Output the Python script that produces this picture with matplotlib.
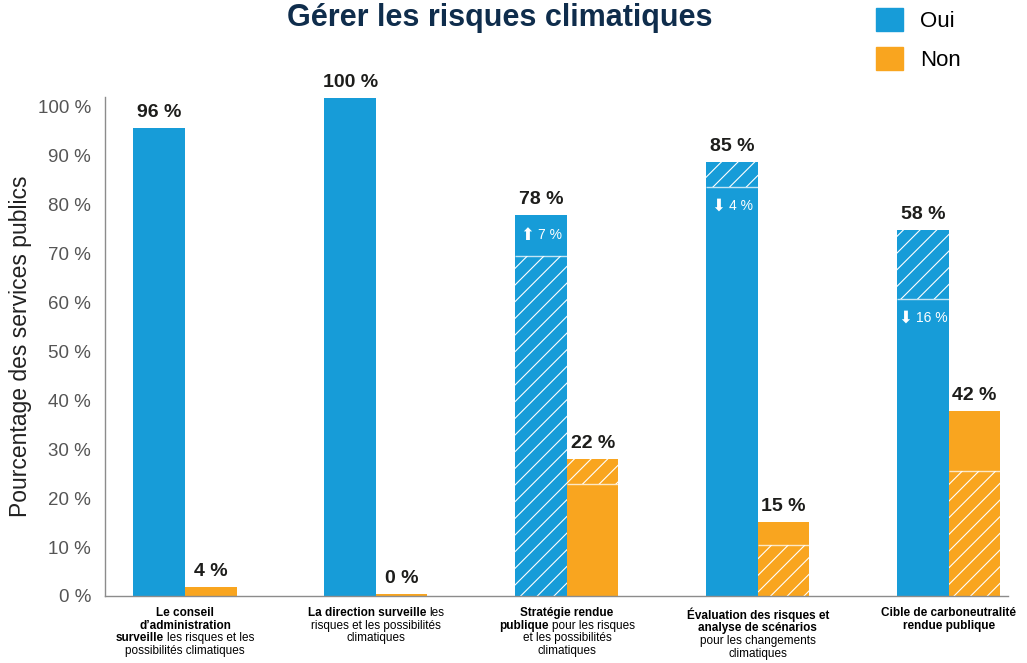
import numpy as np
import matplotlib.pyplot as plt
from matplotlib.patches import Patch
from matplotlib.offsetbox import TextArea, HPacker, VPacker, AnnotationBbox

plt.rcParams['font.family'] = ['Liberation Sans', 'DejaVu Sans']
plt.rcParams['hatch.linewidth'] = 0.8

BLUE = '#179cd8'
ORANGE = '#f9a51f'
DARK = '#1d1d1b'

# category labels: lines of (text, bold) pieces
category_lines = [
    [[("Le conseil", True)], [("d’administration", True)],
     [("surveille", True), ("les risques et les", False)], [("possibilités climatiques", False)]],
    [[("La direction surveille", True), ("les", False)], [("risques et les possibilités", False)],
     [("climatiques", False)]],
    [[("Stratégie rendue", True)], [("publique", True), ("pour les risques", False)],
     [("et les possibilités", False)], [("climatiques", False)]],
    [[("Évaluation des risques et", True)], [("analyse de scénarios", True)],
     [("pour les changements", False)], [("climatiques", False)]],
    [[("Cible de carboneutralité", True)], [("rendue publique", True)]],
]

oui_values = [96, 100, 78, 85, 58]
non_values = [4, 0, 22, 15, 42]

# drawn heights as they appear in the picture (lower segment / full bar)
oui_split = [95.7, 101.8, 69.5, 83.6, 60.7]
oui_top = [95.7, 101.8, 77.9, 88.8, 74.8]
oui_low_hatch = ['', '', '//', '', '']
oui_up_hatch = ['', '', '', '//', '//']

non_split = [1.8, 0.5, 22.9, 10.4, 25.6]
non_top = [1.8, 0.5, 28.0, 15.1, 37.8]
non_low_hatch = ['', '', '', '//', '//']
non_up_hatch = ['', '', '//', '', '']

# change vs. previous year, shown inside the Oui bars
change_arrows = ['', '', '⬆', '⬇', '⬇']
change_values = ['', '', '7 %', '4 %', '16 %']

fig = plt.figure(figsize=(10.27, 6.63), dpi=100)
ax = fig.add_axes([0.1022, 0.1011, 0.8793, 0.7526])

x = np.arange(len(oui_values))
w = 0.27


def draw_bars(xpos, split, top, low_hatch, up_hatch, color):
    split = np.array(split)
    top = np.array(top)
    ax.bar(xpos, split, w, align='edge', color=color, hatch=low_hatch,
           edgecolor='white', linewidth=0)
    ax.bar(xpos, top - split, w, bottom=split, align='edge', color=color,
           hatch=up_hatch, edgecolor='white', linewidth=0)
    has_split = top > split
    ax.hlines(split[has_split], xpos[has_split], xpos[has_split] + w,
              colors='white', alpha=0.75, linewidth=1)


draw_bars(x - w, oui_split, oui_top, oui_low_hatch, oui_up_hatch, BLUE)
draw_bars(x, non_split, non_top, non_low_hatch, non_up_hatch, ORANGE)

for i in range(len(x)):
    ax.annotate(f'{oui_values[i]} %', (x[i] - w / 2, oui_top[i]), xytext=(0, 5),
                textcoords='offset points', ha='center', va='bottom',
                fontsize=14, fontweight='bold', color=DARK)
    ax.annotate(f'{non_values[i]} %', (x[i] + w / 2, non_top[i]), xytext=(0, 5),
                textcoords='offset points', ha='center', va='bottom',
                fontsize=14, fontweight='bold', color=DARK)
    if change_values[i]:
        if change_arrows[i] == '⬆':
            yy = (oui_split[i] + oui_top[i]) / 2
        else:
            yy = oui_split[i] - 3.8
        arrow = TextArea(change_arrows[i], textprops=dict(fontsize=12, color='white',
                                                          family='DejaVu Sans'))
        val = TextArea(change_values[i], textprops=dict(fontsize=10, color='white'))
        box = HPacker(children=[arrow, val], align='center', pad=0, sep=3)
        ax.add_artist(AnnotationBbox(box, (x[i] - w / 2, yy), box_alignment=(0.5, 0.5),
                                     frameon=False, annotation_clip=False))

# category labels with mixed weights
for i, lines in enumerate(category_lines):
    rows = []
    for line in lines:
        parts = [TextArea(t, textprops=dict(fontsize=8.5, color='black',
                                            fontweight='bold' if b else 'normal'))
                 for t, b in line]
        rows.append(HPacker(children=parts, align='baseline', pad=0, sep=2))
    box = VPacker(children=rows, align='center', pad=0, sep=0.5)
    ab = AnnotationBbox(box, (x[i], 0), xycoords=('data', 'axes fraction'),
                        xybox=(0, -8), boxcoords='offset points',
                        box_alignment=(0.5, 1), frameon=False, annotation_clip=False)
    ax.add_artist(ab)

ax.set_xlim(-0.419, 4.31)
ax.set_ylim(0, 102)
ax.set_xticks([])
ax.set_yticks(range(0, 101, 10))
ax.set_yticklabels([f'{t} %' for t in range(0, 101, 10)])
ax.tick_params(axis='y', length=0, pad=10, labelsize=13.5, labelcolor='#555555')
for s in ['top', 'right']:
    ax.spines[s].set_visible(False)
for s in ['left', 'bottom']:
    ax.spines[s].set_color('#8c8c8c')
    ax.spines[s].set_linewidth(1)

ax.set_ylabel('Pourcentage des services publics', fontsize=16.5, color='#222222')
ax.yaxis.set_label_coords(-0.081, 0.5)

fig.text(500 / 1027, 1 - 18 / 663, 'Gérer les risques climatiques', ha='center', va='center',
         fontsize=22, fontweight='bold', color='#0f2d4c')

fs = 16
px = fs * 100 / 72
handles = [Patch(color=BLUE, label='Oui'), Patch(color=ORANGE, label='Non')]
fig.legend(handles=handles, loc='upper left', bbox_to_anchor=(876 / 1027, 1 - 8 / 663),
           frameon=False, fontsize=fs, handlelength=27 / px, handleheight=27 / px,
           handletextpad=17 / px, labelspacing=15 / px, borderpad=0, borderaxespad=0)

fig.savefig('out.png', dpi=100)
